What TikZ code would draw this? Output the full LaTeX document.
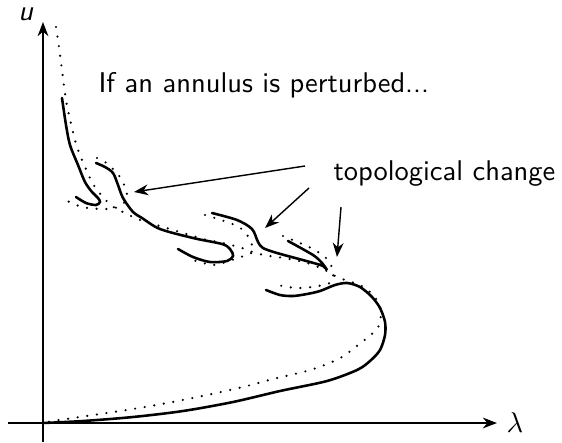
\documentclass[tikz,border=0pt]{standalone}
\usetikzlibrary{arrows.meta}

\begin{document}
\begin{tikzpicture}[x=0.351pt, y=-0.351pt,
  ax/.style={-{Stealth[length=5pt,width=3.8pt]}, line width=0.5pt},
  br/.style={line width=0.9pt, line cap=round},
  un/.style={line width=0.85pt, line cap=round, dash pattern=on 0pt off 3.4pt},
  e/.style={-{Stealth[length=5pt,width=3.8pt]}, line width=0.5pt},
  lbl/.style={font=\sffamily, inner sep=0pt}]
  \useasboundingbox (0,0) rectangle (562,442);

  % axes
  \coordinate (ybot) at (43,442);
  \coordinate (ytop) at (43,22);
  \coordinate (xlft) at (8,423);
  \coordinate (xrgt) at (497,423);
  \draw[ax] (ybot) -- (ytop);
  \draw[ax] (xlft) -- (xrgt);
  \node[lbl, anchor=base] (u) at (26,21) {\textit{u}};
  \node[inner sep=0pt, anchor=base] (lam) at (515,432) {$\lambda$};

  % unperturbed branches
  \draw[un] plot[smooth] coordinates {(56,27) (59,47) (62,70) (66,100) (72,128)
    (77,147) (85,167) (93,184) (102,196) (112,206) (125,213) (140,220) (163,227)
    (183,233) (203,239) (223,243) (242,248) (255,253) (270,256) (290,259)
    (307,263) (323,269) (333,275) (345,280) (360,285) (372,294) (380,306)
    (380,323) (373,333) (358,345) (342,357) (322,366) (303,372) (273,379)
    (247,386) (207,395) (167,403) (133,409) (100,414) (73,418) (53,421) (43,423)};
  \draw[un] plot[smooth] coordinates {(97,158) (105,162) (113,169) (120,177)
    (125,187) (127,196) (123,204) (115,208) (102,209) (82,207) (63,199)};
  \draw[un] plot[smooth] coordinates {(205,215) (215,218) (227,222) (237,226)
    (244,231) (249,238) (252,245) (253,251) (248,255) (240,257) (232,260)
    (223,263) (213,265) (203,263) (193,260)};
  \draw[un] plot[smooth] coordinates {(283,236) (295,241) (307,246) (318,252)
    (326,258) (331,265) (333,272) (333,278) (330,283) (318,286) (303,288)
    (288,287) (273,284)};

  % perturbed branches
  \draw[br] plot[smooth] coordinates {(62,98) (66,125) (70,145) (78,165)
    (85,182) (92,192) (98,198) (100,202) (96,205) (86,203) (76,197)};
  \draw[br] plot[smooth] coordinates {(96,163) (105,167) (113,173) (118,185)
    (123,198) (133,212) (142,218) (160,229) (193,238) (222,244) (230,249)
    (233,256) (227,261) (210,262) (193,257) (178,249)};
  \draw[br] plot[smooth] coordinates {(212,213) (237,220) (252,229) (258,242)
    (263,248) (277,253) (310,262) (323,266) (327,270) (322,263) (313,255)
    (288,241)};
  \draw[br] plot[smooth] coordinates {(266,290) (280,295) (293,296) (307,294)
    (320,291) (335,285) (347,283) (360,287) (372,297) (380,308) (385,322)
    (385,335) (380,350) (370,361) (357,370) (327,381) (280,391) (233,402)
    (183,411) (133,417) (83,421) (43,423)};

  % labels and arrows
  \node[lbl, anchor=base west] (pert) at (98,92) {If an annulus is perturbed...};
  \node[lbl, anchor=base west] (topo) at (333,180) {topological change};
  \coordinate (a1s) at (305,166);
  \coordinate (a1e) at (134,192);
  \coordinate (a2s) at (309,188);
  \coordinate (a2e) at (265,228);
  \coordinate (a3s) at (341,207);
  \coordinate (a3e) at (337,257);
  \draw[e] (a1s) -- (a1e);
  \draw[e] (a2s) -- (a2e);
  \draw[e] (a3s) -- (a3e);
\end{tikzpicture}
\end{document}
